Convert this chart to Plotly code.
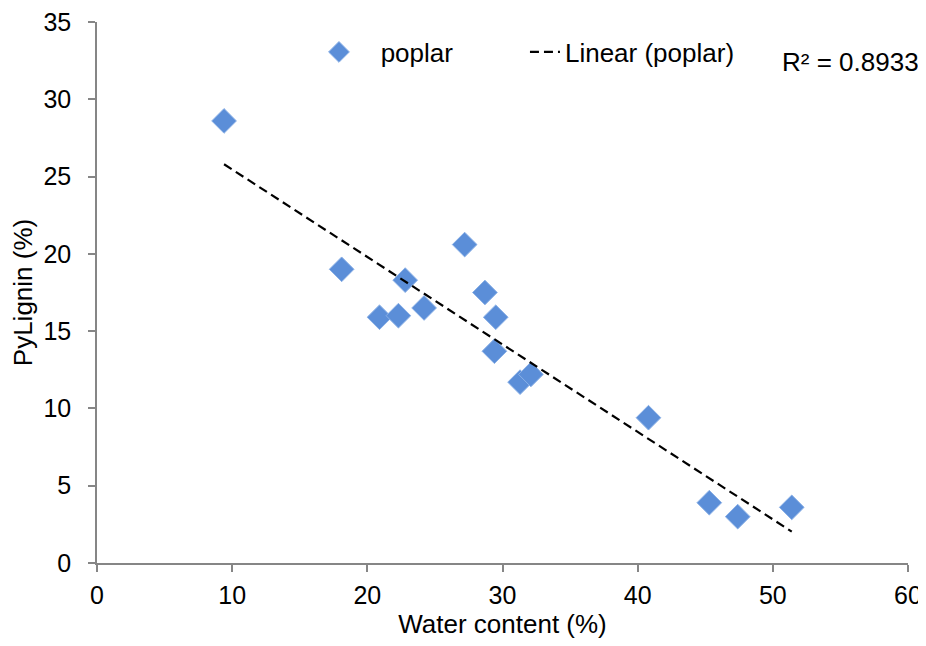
import numpy as np
import plotly.graph_objects as go

water_content = [9.4, 18.1, 20.9, 22.3, 22.8, 24.2, 27.2, 28.7, 29.5, 29.4, 31.3, 32.1, 40.8, 45.3, 47.4, 51.4]
pylignin = [28.6, 19.0, 15.9, 16.0, 18.3, 16.5, 20.6, 17.5, 15.9, 13.7, 11.7, 12.2, 9.4, 3.9, 3.0, 3.6]
x_ticks = [0, 10, 20, 30, 40, 50, 60]
y_ticks = [0, 5, 10, 15, 20, 25, 30, 35]

x = np.array(water_content)
y = np.array(pylignin)
slope, intercept = np.polyfit(x, y, 1)
x_fit = np.array([x.min(), x.max()])
y_fit = slope * x_fit + intercept

FONT = "Liberation Sans, Arial, sans-serif"
AX = "#868686"
FS = 26
TFS = 25
NB = "\u00a0"

fig = go.Figure()
fig.add_trace(go.Scatter(
    x=water_content, y=pylignin, mode="markers", name=NB * 3 + "poplar",
    legend="legend",
    marker=dict(symbol="diamond", size=19, color="#5B8ED8",
                line=dict(color="#8AB0E6", width=1)),
))
fig.add_trace(go.Scatter(
    x=x_fit, y=y_fit, mode="lines", name="Linear (poplar)",
    legend="legend2",
    line=dict(color="black", width=2.2, dash="9px,5px"),
))

fig.add_annotation(
    x=1.016, y=0.926, xref="paper", yref="paper", xanchor="right", yanchor="middle",
    text="R² = 0.8933", showarrow=False, font=dict(family=FONT, size=FS, color="black"),
)

legend_common = dict(orientation="h", yanchor="middle", y=0.9445, xanchor="left",
                     font=dict(family=FONT, size=FS, color="black"),
                     bgcolor="rgba(0,0,0,0)")

fig.update_layout(
    width=918, height=638,
    margin=dict(l=89, r=18, t=14, b=83, autoexpand=False),
    paper_bgcolor="white", plot_bgcolor="white",
    font=dict(family=FONT, size=FS, color="black"),
    showlegend=True,
    legend=dict(x=0.2737, **legend_common),
    legend2=dict(x=0.5277, **legend_common),
    xaxis=dict(range=[0, 60], tickvals=x_ticks, showgrid=False, zeroline=False,
               showline=True, linecolor=AX, linewidth=1.5, automargin=False,
               ticks="outside", tickcolor=AX, ticklen=7, tickwidth=1.5,
               ticklabelstandoff=2, ticklabeloverflow="allow",
               tickfont=dict(family=FONT, size=TFS, color="black"),
               title=dict(text="Water content (%)", font=dict(family=FONT, size=FS), standoff=4)),
    yaxis=dict(range=[0, 35], tickvals=y_ticks, showgrid=False, zeroline=False,
               showline=True, linecolor=AX, linewidth=1.5, automargin=False,
               ticks="outside", tickcolor=AX, ticklen=7, tickwidth=1.5,
               ticklabelstandoff=12, ticklabeloverflow="allow",
               tickfont=dict(family=FONT, size=TFS, color="black"),
               title=dict(text="PyLignin (%)", font=dict(family=FONT, size=FS), standoff=10)),
)

fig.write_html("out.html")
